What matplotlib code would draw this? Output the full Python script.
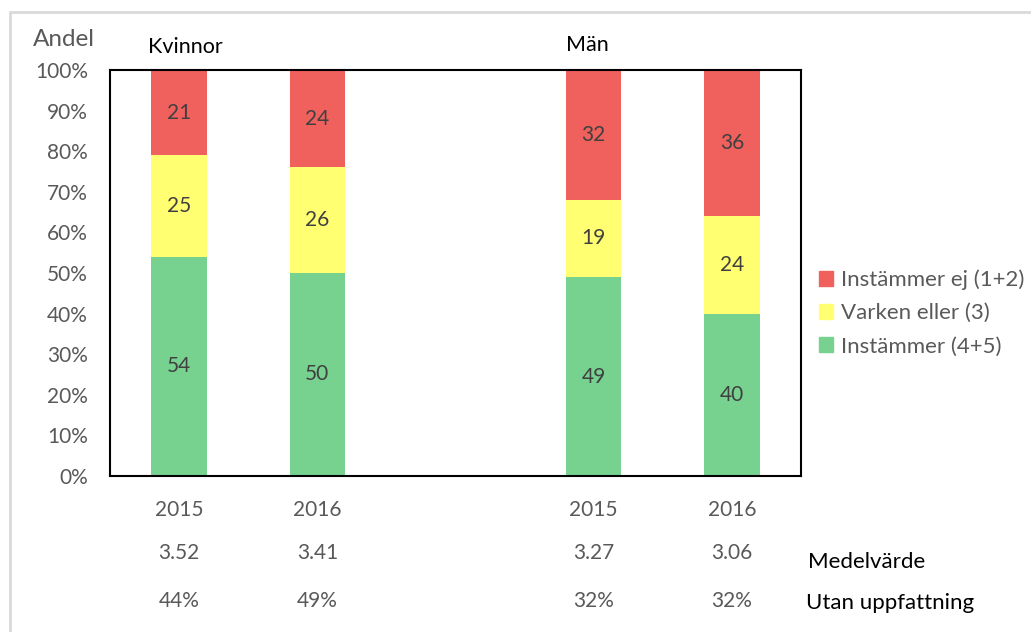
import matplotlib

matplotlib.use("Agg")

import matplotlib.pyplot as plt
import matplotlib.patches as mpatches
import matplotlib.transforms as mtransforms
import numpy as np

plt.rcParams["font.family"] = ["Lato", "DejaVu Sans"]

# Survey shares (%) per group and year; slot 2 is left empty as a gap
slots = [0, 1, 3, 4]
years = ["2015", "2016", "2015", "2016"]
instammer = [54, 50, 49, 40]
varken = [25, 26, 19, 24]
instammer_ej = [21, 24, 32, 36]
medelvarde = ["3.52", "3.41", "3.27", "3.06"]
utan_uppfattning = ["44%", "49%", "32%", "32%"]
groups = ["Kvinnor", "Män"]

RED = "#F0605D"
YELLOW = "#FFFF71"
GREEN = "#77D28F"
GRAY = "#595959"
LABEL = "#404040"
FS = 15

W, H = 1031, 632
fig = plt.figure(figsize=(W / 100, H / 100), dpi=100)
ax = fig.add_axes([110 / W, 1 - 476 / H, 691 / W, 406 / H])

# light frame around the chart area (runs off the right and bottom edges)
fig.patches.append(mpatches.Rectangle(
    (10 / W, -0.1), 1.2, 1 - 12 / H + 0.1, transform=fig.transFigure,
    fill=False, edgecolor="#D9D9D9", linewidth=2))

x = np.array(slots, dtype=float)
bw = 0.4
bot = np.zeros(len(x))
for vals, col in [(instammer, GREEN), (varken, YELLOW), (instammer_ej, RED)]:
    vals = np.array(vals, dtype=float)
    ax.bar(x, vals, bw, bottom=bot, color=col, edgecolor="none")
    for xi, b, v in zip(x, bot, vals):
        ax.text(xi, b + v / 2, f"{v:g}", ha="center", va="center",
                fontsize=FS, color=LABEL)
    bot += vals

ax.set_xlim(-0.5, 4.5)
ax.set_ylim(0, 100)
ax.set_yticks(np.arange(0, 101, 10))
ax.set_yticklabels([f"{v}%" for v in range(0, 101, 10)])
ax.tick_params(axis="y", length=0, pad=16, labelsize=FS, labelcolor=GRAY)
ax.set_xticks(x)
ax.set_xticklabels(years)
ax.tick_params(axis="x", length=0, pad=17, labelsize=FS, labelcolor=GRAY)
for sp in ax.spines.values():
    sp.set_color("black")
    sp.set_linewidth(1.5)

# extra rows under the year labels
tr = mtransforms.blended_transform_factory(ax.transData, fig.transFigure)
for xi, m, u in zip(x, medelvarde, utan_uppfattning):
    ax.text(xi, 1 - 553 / H, m, transform=tr, ha="center", va="center",
            fontsize=FS, color=GRAY)
    ax.text(xi, 1 - 601 / H, u, transform=tr, ha="center", va="center",
            fontsize=FS, color=GRAY)
fig.text(808 / W, 1 - 562 / H, "Medelvärde", ha="left", va="center",
         fontsize=16, color="black")
fig.text(806 / W, 1 - 603 / H, "Utan uppfattning", ha="left", va="center",
         fontsize=16, color="black")

# titles
fig.text(33 / W, 1 - 40 / H, "Andel", ha="left", va="center",
         fontsize=17.5, color=GRAY)
fig.text(185 / W, 1 - 47 / H, groups[0], ha="center", va="center",
         fontsize=15.5, color="black")
fig.text(587 / W, 1 - 45 / H, groups[1], ha="center", va="center",
         fontsize=15.5, color="black")

handles = [mpatches.Patch(color=RED, label="Instämmer ej (1+2)"),
           mpatches.Patch(color=YELLOW, label="Varken eller (3)"),
           mpatches.Patch(color=GREEN, label="Instämmer (4+5)")]
leg = fig.legend(handles=handles, loc="center left",
                 bbox_to_anchor=(810 / W, 1 - 313 / H), frameon=False,
                 handlelength=0.65, handleheight=0.65, handletextpad=0.35,
                 labelspacing=0.6, fontsize=16, borderaxespad=0)
for t in leg.get_texts():
    t.set_color(GRAY)

fig.savefig("out.png", dpi=100)
